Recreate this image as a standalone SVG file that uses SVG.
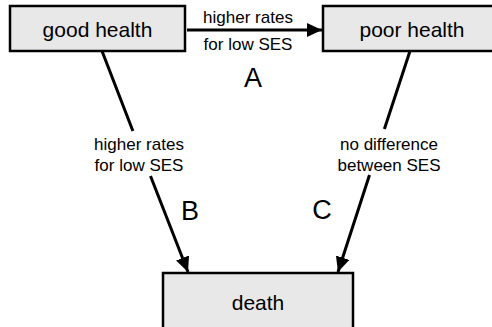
<svg xmlns="http://www.w3.org/2000/svg" width="492" height="327" viewBox="0 0 492 327">
<defs>
<style>
.box{fill:#e8e8e8;stroke:#000;stroke-width:2.5}
.nt{font-family:"Liberation Sans",Arial,sans-serif;font-size:21px;text-anchor:middle;fill:#000}
.lb{font-family:"Liberation Sans",Arial,sans-serif;font-size:17px;text-anchor:middle;fill:#000}
.big{font-family:"Liberation Sans",Arial,sans-serif;font-size:27px;text-anchor:middle;fill:#000}
.edge{fill:none;stroke:#000;stroke-width:3}
</style>
<marker id="arr" markerUnits="userSpaceOnUse" markerWidth="16" markerHeight="14" refX="15" refY="7" orient="auto">
<path d="M0,0 L15,7 L0,14 Z" fill="#000"/>
</marker>
</defs>
<rect width="492" height="327" fill="#fff"/>
<g id="good-health">
<rect class="box" x="10" y="6" width="175" height="45"/>
<text class="nt" x="97.5" y="37">good health</text>
</g>
<g id="poor-health">
<rect class="box" x="323" y="6" width="180" height="45"/>
<text class="nt" x="412" y="37">poor health</text>
</g>
<g id="death">
<rect class="box" x="163" y="273" width="190" height="70"/>
<text class="nt" x="258" y="310">death</text>
</g>
<g id="connectors">
<path class="edge" d="M187,30 L322,30" marker-end="url(#arr)"/>
<path class="edge" d="M102,51 L132.9,131 M150.5,176 L188,272" marker-end="url(#arr)"/>
<path class="edge" d="M410,51 L384.4,129 M369.5,175 L338,272" marker-end="url(#arr)"/>
</g>
<g id="labels">
<text class="lb" x="248" y="23">higher rates</text>
<text class="lb" x="248" y="50">for low SES</text>
<text class="big" x="253" y="87">A</text>
<text class="lb" x="139" y="150">higher rates</text>
<text class="lb" x="139" y="171">for low SES</text>
<text class="big" x="190" y="220">B</text>
<text class="lb" x="389" y="150">no difference</text>
<text class="lb" x="389" y="171">between SES</text>
<text class="big" x="322" y="219">C</text>
</g>
</svg>
